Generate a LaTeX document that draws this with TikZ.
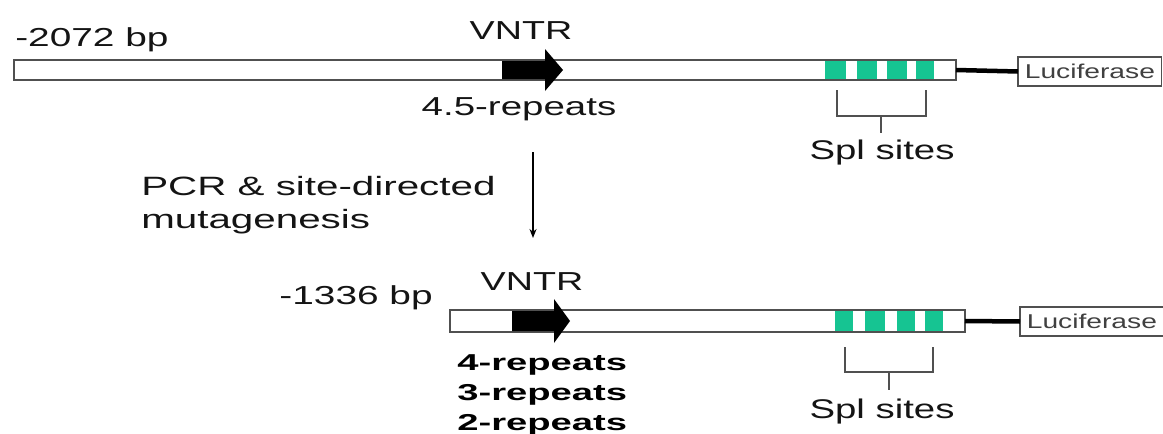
\documentclass[tikz,border=0pt]{standalone}
\usepackage{fontspec}
\setmainfont{Liberation Sans}
\usetikzlibrary{arrows.meta}
\definecolor{site}{RGB}{22,196,146}
\definecolor{outl}{RGB}{80,80,80}
\definecolor{txt}{RGB}{20,20,20}
\begin{document}
\begin{tikzpicture}[x=1pt,y=-1pt,
  barbox/.style={draw=outl, line width=1.5pt, fill=white, inner sep=0pt, outer sep=0pt, anchor=north west},
  sitebox/.style={fill=site},
  vntrarrow/.style={fill=black},
  lucbox/.style={draw=outl, line width=1.2pt, fill=white, inner sep=0pt, outer sep=0pt,
     minimum width=102pt, minimum height=29pt, xscale=1.41, anchor=west,
     font=\fontsize{20}{20}\selectfont, text=outl!80!black},
  link/.style={line width=4.5pt, black},
  brk/.style={draw=outl, line width=1.2pt},
  lab/.style={inner sep=0pt, text=txt, xscale=1.45},
  big/.style={font=\fontsize{26}{30}\selectfont},
  boldlab/.style={inner sep=0pt, text=black, xscale=1.66, align=left,
     font=\fontsize{23}{25}\selectfont\bfseries},
]
\useasboundingbox (0,0) rectangle (1163,434);

% ---------- top construct ----------
\node[barbox, minimum width=942pt, minimum height=20pt] (bar1) at (14,60) {};
\fill[sitebox] (825,61) rectangle (846,79);
\fill[sitebox] (857,61) rectangle (877,79);
\fill[sitebox] (887,61) rectangle (907,79);
\fill[sitebox] (916,61) rectangle (934,79);
\fill[vntrarrow] (502,61) -- (545,61) -- (545,49) -- (563,70) -- (545,91) -- (545,79) -- (502,79) -- cycle;
\node[lucbox] (luc1) at (1018,71.5) {Luciferase};
\draw[link] (bar1.east) -- (luc1.west);

\node[lab, big, anchor=base west, xscale=1.03] (bp1) at (15,46) {-2072 bp};
\node[lab, big, anchor=base] (vntr1) at (521,39) {VNTR};
\node[lab, big, anchor=base, xscale=1.02] (rep1) at (519,115) {4.5-repeats};

\draw[brk] (837,90) -- (837,116) -- (926,116) -- (926,90);
\draw[brk] (881,116) -- (881,133);
\node[lab, font=\fontsize{27}{30}\selectfont, anchor=base, xscale=0.98] (spl1) at (882,159) {Spl sites};

% ---------- transition ----------
\coordinate (dtop) at (533,152);
\coordinate (dbot) at (533,238);
\draw[line width=2pt, -{Stealth[length=9pt,width=7pt]}] (dtop) -- (dbot);
\node[lab, font=\fontsize{26.5}{33}\selectfont, anchor=base west, xscale=1.05] (pcr1) at (141,195) {PCR \& site-directed};
\node[lab, font=\fontsize{26.5}{33}\selectfont, anchor=base west, xscale=1.05] (pcr2) at (141,228) {mutagenesis};

% ---------- bottom construct ----------
\node[barbox, minimum width=515pt, minimum height=22pt] (bar2) at (450,310) {};
\fill[sitebox] (835,311) rectangle (853,331);
\fill[sitebox] (865,311) rectangle (885,331);
\fill[sitebox] (897,311) rectangle (915,331);
\fill[sitebox] (925,311) rectangle (943,331);
\fill[vntrarrow] (512,311) -- (554,311) -- (554,299) -- (570,321) -- (554,343) -- (554,331) -- (512,331) -- cycle;
\node[lucbox] (luc2) at (1020,321.5) {Luciferase};
\draw[link] (bar2.east) -- (luc2.west);

\node[lab, big, anchor=base east, xscale=1.03] (bp2) at (433,304) {-1336 bp};
\node[lab, big, anchor=base] (vntr2) at (532,290) {VNTR};
\node[boldlab, anchor=base west] (r4) at (457,370) {4-repeats};
\node[boldlab, anchor=base west] (r3) at (457,400) {3-repeats};
\node[boldlab, anchor=base west] (r2) at (457,430) {2-repeats};

\draw[brk] (845,347) -- (845,372) -- (933,372) -- (933,347);
\draw[brk] (889,372) -- (889,390);
\node[lab, font=\fontsize{27}{30}\selectfont, anchor=base, xscale=0.98] (spl2) at (882,418) {Spl sites};
\end{tikzpicture}
\end{document}
